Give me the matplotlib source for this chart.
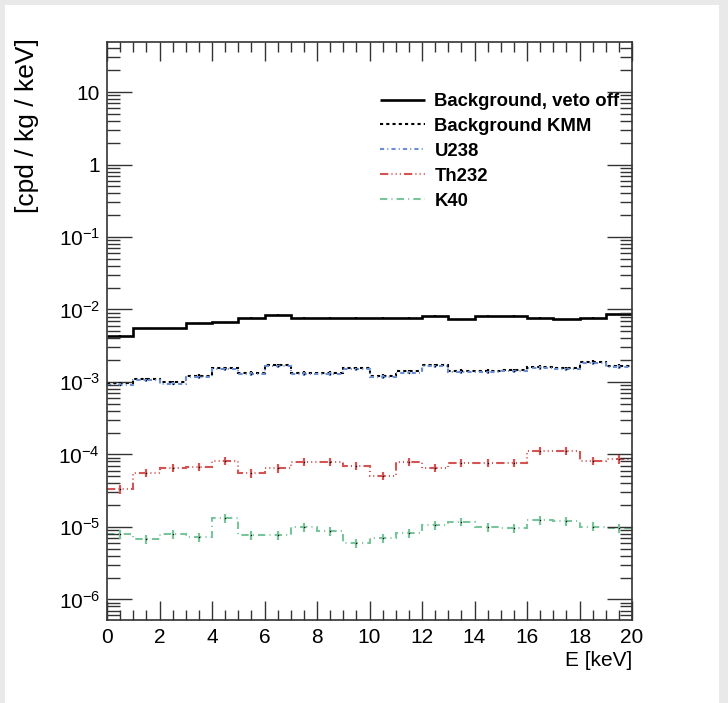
import numpy as np
import matplotlib
matplotlib.use("Agg")
import matplotlib.pyplot as plt
from matplotlib.patches import Rectangle
from matplotlib.lines import Line2D
from matplotlib.ticker import FixedLocator, FixedFormatter, MultipleLocator, LogLocator, NullFormatter

plt.rcParams['font.family'] = ['Liberation Sans', 'DejaVu Sans']
plt.rcParams['mathtext.fontset'] = 'custom'
plt.rcParams['mathtext.rm'] = 'Liberation Sans'
plt.rcParams['mathtext.it'] = 'Liberation Sans:italic'
plt.rcParams['mathtext.bf'] = 'Liberation Sans:bold'

# ---- data ----
bin_edges = np.arange(0, 21, 1.0)

veto_off = [4.35e-3, 5.5e-3, 5.5e-3, 6.45e-3, 6.67e-3, 7.7e-3, 8.4e-3, 7.7e-3, 7.7e-3, 7.7e-3,
            7.7e-3, 7.7e-3, 8.2e-3, 7.3e-3, 8.2e-3, 8.2e-3, 7.7e-3, 7.3e-3, 7.7e-3, 8.6e-3]
kmm = [9.6e-4, 1.09e-3, 9.9e-4, 1.21e-3, 1.55e-3, 1.34e-3, 1.71e-3, 1.34e-3, 1.34e-3, 1.55e-3,
       1.22e-3, 1.41e-3, 1.71e-3, 1.43e-3, 1.43e-3, 1.46e-3, 1.63e-3, 1.55e-3, 1.90e-3, 1.68e-3]
u238 = [9.2e-4, 1.05e-3, 9.5e-4, 1.16e-3, 1.49e-3, 1.29e-3, 1.64e-3, 1.29e-3, 1.29e-3, 1.49e-3,
        1.17e-3, 1.35e-3, 1.64e-3, 1.37e-3, 1.37e-3, 1.40e-3, 1.56e-3, 1.49e-3, 1.82e-3, 1.61e-3]
th232 = [3.31e-5, 5.61e-5, 6.58e-5, 6.73e-5, 8.13e-5, 5.5e-5, 6.45e-5, 7.96e-5, 7.96e-5, 7.0e-5,
         5.1e-5, 7.96e-5, 6.58e-5, 7.7e-5, 7.7e-5, 7.7e-5, 1.13e-4, 1.13e-4, 8.13e-5, 8.6e-5]
k40 = [7.92e-6, 6.76e-6, 7.92e-6, 7.21e-6, 1.32e-5, 7.76e-6, 7.76e-6, 1.0e-5, 8.8e-6, 5.96e-6,
       6.98e-6, 8.18e-6, 1.07e-5, 1.18e-5, 9.9e-6, 9.6e-6, 1.25e-5, 1.21e-5, 1.01e-5, 9.6e-6]

# relative statistical uncertainties
rel_err = {"veto": 0.02, "kmm": 0.05, "u238": 0.05, "th232": 0.13, "k40": 0.14}

labels = ["Background, veto off", "Background KMM", "U238", "Th232", "K40"]
y_ticks = [1e-6, 1e-5, 1e-4, 1e-3, 1e-2, 1e-1, 1, 10]
y_tick_labels = [r"10$^{-6}$", r"10$^{-5}$", r"10$^{-4}$", r"10$^{-3}$", r"10$^{-2}$", r"10$^{-1}$", "1", "10"]
x_ticks = list(range(0, 21, 2))

# ---- figure ----
W, H = 728, 703
fig = plt.figure(figsize=(W / 100, H / 100), dpi=100)
fig.patch.set_facecolor('#e9e9e9')
fig.add_artist(Rectangle((5 / W, 0), 714 / W, 1 - 5 / H, transform=fig.transFigure,
                         facecolor='white', edgecolor='none', zorder=0))

ax = fig.add_axes([107 / W, 1 - 620 / H, (632 - 107) / W, (620 - 42) / H])
ax.set_facecolor('none')

centers = 0.5 * (bin_edges[:-1] + bin_edges[1:])

styles = [
    (veto_off, "black", (0, ()), 1.9, rel_err["veto"]),
    (kmm, "black", (0, (1.5, 1.5)), 1.5, rel_err["kmm"]),
    (u238, "#6b8fd6", (0, (2, 1.5, 0.5, 1.5)), 1.5, rel_err["u238"]),
    (th232, "#d45454", (0, (4, 1.5, 0.5, 1.5, 0.5, 1.5, 0.5, 1.5)), 1.5, rel_err["th232"]),
    (k40, "#79c49a", (0, (3.5, 2, 0.5, 2)), 1.5, rel_err["k40"]),
]

handles = []
for (vals, col, ls, lw, re), lab in zip(styles, labels):
    v = np.array(vals)
    ax.stairs(v, bin_edges, baseline=None, color=col, linestyle=ls, linewidth=lw)
    ax.errorbar(centers, v, yerr=v * re, fmt='none', ecolor=col, elinewidth=1.6, capsize=0)
    ax.plot(centers, v, linestyle='none', marker='s', markersize=0.9, markeredgewidth=0,
            color='black')
    handles.append(Line2D([0], [0], color=col, linestyle=ls, linewidth=lw))

ax.set_yscale('log')
ax.set_xlim(0, 20)
ax.set_ylim(5.2e-7, 49)

ax.yaxis.set_major_locator(FixedLocator(y_ticks))
ax.yaxis.set_major_formatter(FixedFormatter(y_tick_labels))
ax.yaxis.set_minor_locator(LogLocator(base=10, subs=np.arange(2, 10), numticks=50))
ax.yaxis.set_minor_formatter(NullFormatter())
ax.xaxis.set_major_locator(FixedLocator(x_ticks))
ax.xaxis.set_minor_locator(MultipleLocator(0.5))

ax.tick_params(which='both', direction='in', top=True, right=True, labelsize=15, width=1.0, color='#333333')
ax.tick_params(axis='x', which='major', length=14, pad=6)
ax.tick_params(axis='x', which='minor', length=7)
ax.tick_params(axis='y', which='major', length=18, pad=5)
ax.tick_params(axis='y', which='minor', length=9)
for s in ax.spines.values():
    s.set_linewidth(1.2)
    s.set_color('#333333')

fig.text(27 / W, 1 - 38 / H, "[cpd / kg / keV]", rotation=90, ha='center', va='top', fontsize=19)
fig.text(632 / W, 1 - 661 / H, "E [keV]", ha='right', va='center', fontsize=15)

leg = fig.legend(handles, labels, loc='upper left', bbox_to_anchor=(380 / W, 1 - 93 / H),
                 frameon=False, prop={'weight': 'bold', 'size': 13.3},
                 handlelength=2.45, handletextpad=0.5, labelspacing=0.43,
                 borderpad=0, borderaxespad=0)

fig.savefig("out.png", dpi=100)
